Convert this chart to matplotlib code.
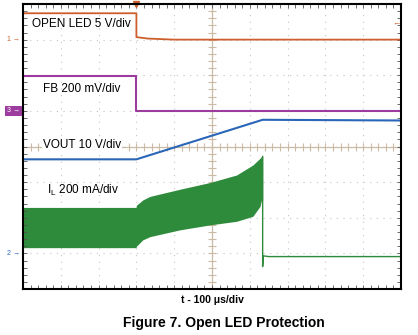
import numpy as np
import matplotlib
matplotlib.use("Agg")
import matplotlib.pyplot as plt

plt.rcParams["font.family"] = ["Liberation Sans", "DejaVu Sans"]

# scope traces, time and level in divisions (10 x 8 graticule)
open_led_t = [0.0, 3.0, 3.0, 3.3, 4.0, 10.0]
open_led_v = [7.74, 7.74, 7.07, 7.03, 7.0, 7.0]

fb_t = [0.0, 3.0, 3.0, 10.0]
fb_v = [5.98, 5.98, 5.0, 5.0]

vout_t = [0.0, 3.0, 6.34, 10.0]
vout_v = [3.64, 3.64, 4.75, 4.73]

# inductor current ripple envelope while switching
il_t = [0.0, 2.99, 3.0, 3.17, 3.36, 4.15, 4.95, 5.65, 6.08, 6.27, 6.31, 6.34]
il_top = [2.29, 2.29, 2.35, 2.5, 2.6, 2.8, 2.99, 3.2, 3.48, 3.67, 3.72, 3.72]
il_bot = [1.16, 1.16, 1.2, 1.38, 1.47, 1.66, 1.8, 1.9, 2.04, 2.32, 2.5, 2.5]
# after switching stops
il_off_t = [6.34, 6.34, 6.36, 6.5, 10.0]
il_off_v = [3.72, 0.63, 0.93, 0.91, 0.91]

ORANGE = "#cd5f2c"
PURPLE = "#9c3c9e"
BLUE = "#2a66b8"
GREEN = "#2f8b3c"

fig = plt.figure(figsize=(4.18, 3.35), dpi=100)
ax = fig.add_axes([23 / 418, 46 / 335, 378 / 418, 285 / 335])
ax.set_xlim(0, 10)
ax.set_ylim(0, 8)

# graticule
for gx in range(1, 10):
    ax.axvline(gx, color="#c4c4c4", lw=0.8, ls=(0, (1, 5)), zorder=0)
for gy in range(1, 8):
    ax.axhline(gy, color="#c4c4c4", lw=0.8, ls=(0, (1, 5)), zorder=0)
minor_x = np.arange(0, 10.01, 0.2)
minor_y = np.arange(0, 8.01, 0.2)
ax.axvline(5, color="#cbbba6", lw=0.9, zorder=0)
ax.axhline(4, color="#cbbba6", lw=0.9, zorder=0)
ax.plot(minor_x, [4] * len(minor_x), ls="none", marker="|", ms=6, mew=0.8, color="#cbbba6", zorder=0)
ax.plot([5] * len(minor_y), minor_y, ls="none", marker="_", ms=6, mew=0.8, color="#cbbba6", zorder=0)

ax.set_xticks(minor_x)
ax.set_yticks(minor_y)
ax.tick_params(direction="in", top=True, right=True, length=3, width=0.6,
               color="#555555", labelbottom=False, labelleft=False)
for spine in ax.spines.values():
    spine.set_linewidth(1.5)

# traces
ax.plot(open_led_t, open_led_v, color=ORANGE, lw=1.3)
ax.plot(fb_t, fb_v, color=PURPLE, lw=1.5)
ax.plot(vout_t, vout_v, color=BLUE, lw=1.5)
ax.fill_between(il_t, il_bot, il_top, color=GREEN, lw=0)
ax.plot(il_off_t, il_off_v, color=GREEN, lw=1.0)

# channel labels
ax.text(0.24, 7.44, "OPEN LED 5 V/div", fontsize=8.5, va="center")
ax.text(0.53, 5.62, "FB 200 mV/div", fontsize=8.5, va="center")
ax.text(0.53, 4.04, "VOUT 10 V/div", fontsize=8.5, va="center",
        bbox=dict(facecolor="white", edgecolor="none", pad=0.5))
ax.text(0.63, 2.78, r"I$_\mathregular{L}$ 200 mA/div", fontsize=8.5, va="center")

# channel / trigger markers
ax.text(-0.08, 7.0, "1 \u2192", fontsize=5, color=ORANGE, ha="right", va="center")
ax.text(-0.08, 5.0, "3 \u2192", fontsize=5, color="white", ha="right", va="center",
        bbox=dict(facecolor=PURPLE, edgecolor="none", pad=1.2))
ax.text(-0.08, 1.0, "2 \u2192", fontsize=5, color=BLUE, ha="right", va="center")
ax.text(9.98, 7.44, "\u2190", fontsize=6, color=ORANGE, ha="right", va="center")
ax.plot(3.0, 8.0, marker="v", ms=4, color=ORANGE, clip_on=False)

for t in ax.texts:
    t.set_clip_on(False)

ax.set_xlabel("t - 100 \u03bcs/div", fontsize=7.5, fontweight="bold", labelpad=4)
fig.text(224 / 418, 12 / 335, "Figure 7. Open LED Protection", fontsize=10,
         fontweight="bold", ha="center", va="center")

fig.savefig("out.png", dpi=100)
